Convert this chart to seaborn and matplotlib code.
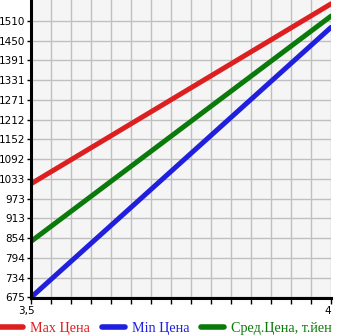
import matplotlib
matplotlib.use("Agg")
import matplotlib.pyplot as plt
import matplotlib.transforms as mtransforms
import seaborn as sns
import pandas as pd
import numpy as np
from matplotlib.lines import Line2D
from matplotlib.ticker import MultipleLocator

x_vals = [3.5, 4.0]
max_price = [1018, 1561]
min_price = [675, 1490]
avg_price = [844, 1524]
series_names = ["Max Цена", "Min Цена", "Сред.Цена, т.йен"]
colors = ["#dd1f1f", "#1f1fdd", "#0a7a0a"]
y_ticks = [675, 734, 794, 854, 913, 973, 1033, 1092, 1152, 1212, 1271, 1331, 1391, 1450, 1510]
x_tick_labels = ["3,5", "4"]

df = pd.DataFrame({
    "x": x_vals * 3,
    "y": max_price + min_price + avg_price,
    "s": [series_names[0]] * 2 + [series_names[1]] * 2 + [series_names[2]] * 2,
})

sns.set_style("white")
plt.rcParams['font.family'] = ['DejaVu Sans']

fig = plt.figure(figsize=(3.45, 3.35), dpi=100)
ax = fig.add_axes([31/345, 37/335, 300/345, 298/335])
ax.set_facecolor("#f5f5f5")

sns.lineplot(data=df, x="x", y="y", hue="s", palette=dict(zip(series_names, colors)),
             linewidth=3.6, ax=ax, legend=False, solid_capstyle="round")

ax.set_xlim(3.5, 4.0)
step = (1510 - 675) / 14
ax.set_ylim(675 - 0.6 * step / 20, 675 + step * 14 + step * 20.7 / 19.7)
ax.set_yticks([675 + i * step for i in range(15)])
ax.set_yticklabels([str(v) for v in y_ticks])
ax.set_xticks([3.5, 4.0])
ax.set_xticklabels(x_tick_labels)
ax.xaxis.set_minor_locator(MultipleLocator(0.5 / 15))
ax.grid(True, which="both", axis="x", color="#c0c0c0", linewidth=1)
ax.grid(True, which="major", axis="y", color="#c0c0c0", linewidth=1)
ax.set_axisbelow(True)
ax.set_xlabel("")
ax.set_ylabel("")

for side in ["top", "right"]:
    ax.spines[side].set_visible(False)
for side in ["left", "bottom"]:
    ax.spines[side].set_color("black")
    ax.spines[side].set_linewidth(2.2)

ax.tick_params(axis="y", which="major", length=3, width=1, pad=1, labelsize=7.5, left=True,
               colors="black", labelcolor="black")
ax.tick_params(axis="x", which="both", length=4, width=1, pad=2, labelsize=7.5, bottom=True,
               direction="out", colors="black", labelcolor="black")
shift_first = mtransforms.ScaledTranslation(-5 / 100, 0, fig.dpi_scale_trans)
shift_last = mtransforms.ScaledTranslation(-3 / 100, 0, fig.dpi_scale_trans)
xlabels = ax.get_xticklabels()
xlabels[0].set_transform(xlabels[0].get_transform() + shift_first)
xlabels[1].set_transform(xlabels[1].get_transform() + shift_last)

handles = [Line2D([0], [0], color=c, lw=4, solid_capstyle="round") for c in colors]
leg = fig.legend(handles, series_names, loc="lower left", bbox_to_anchor=(-0.02, -0.02), ncol=3,
                 frameon=False, handlelength=1.6, handletextpad=0.5, columnspacing=0.85,
                 prop={"family": "Liberation Serif", "size": 10.2}, borderaxespad=0.1)
for t, c in zip(leg.get_texts(), colors):
    t.set_color(c)

fig.savefig("out.png", dpi=100)
